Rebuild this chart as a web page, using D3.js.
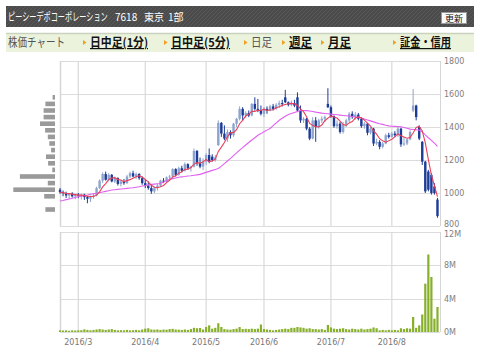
<!DOCTYPE html>
<html>
<head>
<meta charset="utf-8">
<script src="https://cdn.jsdelivr.net/npm/d3@7"></script>
<style>
  body { margin: 0; background: #fff; }
</style>
</head>
<body>
<div id="chart"></div>
<script>
// daily candles (Feb 22 - Aug 2016), one entry per trading day
const opens = [1020,1005,1000,985,995,980,990,985,990,975,965,980,985,1030,1075,1115,1080,1110,1070,1090,
  1055,1070,1060,1100,1120,1100,1115,1090,1060,1045,1030,1010,1030,1045,1075,1070,1095,1100,1145,1110,
  1150,1135,1175,1150,1160,1255,1180,1160,1190,1230,1220,1200,1290,1425,1360,1330,1370,1350,1420,1450,
  1510,1470,1485,1470,1540,1510,1500,1480,1510,1500,1525,1510,1535,1545,1580,1550,1535,1545,1580,1500,
  1440,1450,1390,1330,1440,1400,1440,1450,1540,1520,1465,1405,1420,1370,1415,1440,1480,1460,1475,1450,
  1405,1420,1365,1390,1300,1310,1280,1300,1350,1340,1360,1350,1390,1295,1300,1325,1500,1530,1400,1310,
  1190,1130,1110,1040,960];
const highs = [1030,1015,1008,1000,1005,995,1000,995,995,982,985,995,1038,1082,1125,1130,1120,1115,1100,1095,
  1080,1085,1110,1130,1135,1125,1120,1100,1080,1070,1050,1040,1055,1080,1090,1100,1110,1150,1150,1160,
  1165,1185,1180,1165,1270,1260,1215,1210,1240,1270,1235,1230,1440,1430,1410,1385,1380,1425,1455,1525,
  1520,1495,1500,1545,1580,1570,1530,1520,1525,1535,1540,1545,1560,1565,1625,1555,1560,1565,1610,1530,
  1460,1455,1400,1460,1460,1450,1465,1470,1635,1530,1470,1440,1430,1430,1450,1490,1495,1490,1485,1460,
  1430,1425,1400,1395,1330,1320,1310,1360,1365,1370,1375,1400,1395,1340,1330,1380,1630,1535,1410,1315,
  1195,1140,1120,1060,970];
const lows = [995,980,970,965,972,962,968,960,958,938,945,965,980,1025,1060,1075,1070,1065,1060,1045,
  1040,1050,1055,1090,1095,1085,1080,1050,1030,1020,995,1000,1015,1040,1060,1060,1080,1095,1100,1105,
  1125,1130,1140,1130,1155,1165,1150,1140,1170,1180,1190,1190,1285,1340,1320,1310,1330,1340,1400,1440,
  1440,1455,1460,1465,1500,1490,1470,1460,1480,1495,1500,1505,1515,1525,1545,1525,1525,1520,1490,1425,
  1425,1380,1320,1325,1310,1390,1425,1430,1515,1455,1395,1390,1360,1360,1400,1430,1450,1445,1440,1395,
  1390,1350,1355,1285,1290,1265,1270,1295,1330,1335,1340,1340,1280,1285,1290,1320,1490,1440,1320,1170,
  1000,1010,990,990,850];
const closes = [1005,1000,985,995,980,990,985,990,975,965,980,985,1030,1075,1115,1080,1110,1070,1090,1055,
  1070,1060,1100,1120,1100,1115,1090,1060,1045,1030,1010,1030,1045,1075,1070,1095,1100,1145,1110,1150,
  1135,1175,1150,1160,1255,1180,1160,1190,1230,1190,1200,1215,1425,1360,1330,1370,1350,1420,1450,1510,
  1470,1485,1470,1540,1510,1500,1480,1510,1500,1525,1510,1535,1545,1540,1550,1535,1545,1530,1500,1440,
  1450,1390,1330,1440,1400,1440,1450,1460,1520,1465,1405,1420,1370,1415,1440,1480,1460,1475,1450,1405,
  1420,1365,1390,1300,1310,1280,1300,1350,1340,1360,1350,1390,1295,1300,1325,1370,1530,1460,1330,1190,
  1010,1020,1000,1000,860];
// volume in millions of shares
const volumes = [0.2,0.18,0.2,0.15,0.2,0.18,0.2,0.22,0.32,0.25,0.2,0.25,0.3,0.35,0.3,0.25,0.3,0.35,0.25,0.2,
  0.22,0.2,0.25,0.2,0.22,0.25,0.2,0.3,0.4,0.45,0.3,0.28,0.3,0.25,0.3,0.28,0.35,0.38,0.3,0.28,
  0.25,0.3,0.25,0.35,0.5,0.45,0.48,0.3,0.6,0.8,0.4,0.5,1.05,0.6,0.35,0.3,0.28,0.35,0.4,0.6,
  0.35,0.38,0.35,0.4,0.35,0.4,0.9,0.35,0.3,0.25,0.2,0.25,0.3,0.35,0.4,0.35,0.5,0.5,0.6,0.55,
  0.5,0.4,0.45,0.35,0.35,0.3,0.35,0.25,0.85,0.55,0.4,0.35,0.4,0.45,0.35,0.3,0.4,0.35,0.3,0.4,
  0.3,0.35,0.4,0.55,0.45,0.2,0.25,0.2,0.25,0.2,0.25,0.2,0.45,0.35,0.45,0.4,1.8,0.5,0.8,2.1,
  5.8,9.3,6.6,1.6,3.0];
// 25 day moving average as drawn on the chart
const ma25 = [951,955,960,964,968,973,977,981,985,988,992,995,998,1002,1006,1010,1014,1018,1020,1022,
  1024,1026,1028,1030,1032,1035,1038,1042,1045,1049,1052,1054,1056,1058,1066,1075,1083,1087,1091,1095,
  1098,1100,1103,1105,1108,1110,1113,1119,1125,1131,1137,1143,1149,1163,1178,1194,1210,1227,1243,1260,
  1275,1291,1306,1321,1335,1350,1360,1371,1381,1391,1408,1424,1441,1453,1465,1476,1482,1488,1494,1500,
  1500,1499,1497,1494,1490,1487,1484,1482,1480,1478,1476,1474,1472,1470,1468,1466,1464,1461,1458,1455,
  1449,1443,1437,1431,1425,1420,1416,1411,1407,1405,1404,1403,1401,1397,1392,1387,1385,1383,1381,1370,
  1352,1335,1319,1302,1282];

const monthLabels = ["2016/3", "2016/4", "2016/5", "2016/6", "2016/7", "2016/8"];
const monthIndex = [6, 28, 48, 67, 89, 109];
const priceTicks = [800, 1000, 1200, 1400, 1600, 1800];
const volumeTicks = [0, 4, 8, 12];

// volume by price (left side histogram)
const profileLevels = [1580,1540,1500,1460,1420,1380,1340,1300,1260,1220,1180,1140,1100,1060,1020,980,940,900];
const profileVolumes = [0.8,3.2,3.8,3.8,5.0,3.3,2.4,1.9,1.3,3.0,2.3,0.9,11.7,2.4,13.9,3.6,0,3.2];

const navItems = ["日中足(1分)", "日中足(5分)", "日足", "週足", "月足", "証金・信用"];
const navX = [90, 171, 251, 289, 328, 400];
const navW = [58, 59, 21, 23, 23, 51];

const width = 480, height = 360;
const fontJP = "'Noto Sans CJK JP', sans-serif";
const fontAxis = "'DejaVu Sans', sans-serif";

const svg = d3.select("#chart").append("svg")
  .attr("width", width)
  .attr("height", height)
  .style("display", "block");

// header bar with diagonal texture
const defs = svg.append("defs");
const pat = defs.append("pattern")
  .attr("id", "stripe")
  .attr("width", 4).attr("height", 4)
  .attr("patternUnits", "userSpaceOnUse");
pat.append("rect").attr("width", 4).attr("height", 4).attr("fill", "#4b4b4b");
pat.append("path").attr("d", "M0,4 L4,0").attr("stroke", "#595959").attr("stroke-width", 1);

svg.append("rect")
  .attr("x", 6).attr("y", 6).attr("width", 468).attr("height", 21)
  .attr("fill", "url(#stripe)");

const title = svg.append("g").attr("fill", "#fff").style("font-family", fontJP);
// narrow katakana, squeezed horizontally like the original bitmap font
title.append("text")
  .attr("transform", "translate(8,21) scale(0.65,1)")
  .style("font-size", "11px")
  .text("ピーシーデポコーポレーション");
title.append("text").attr("x", 115).attr("y", 21).style("font-size", "10px").text("7618");
title.append("text").attr("x", 144).attr("y", 21).style("font-size", "10px").text("東京");
title.append("text").attr("x", 168).attr("y", 21).style("font-size", "10px").text("1部");

// refresh button
svg.append("rect")
  .attr("x", 441.5).attr("y", 12.5).attr("width", 25).attr("height", 11)
  .attr("fill", "#fafafa").attr("stroke", "#999");
svg.append("text")
  .attr("x", 454).attr("y", 21.5)
  .attr("text-anchor", "middle")
  .style("font-family", fontJP).style("font-size", "9px")
  .attr("fill", "#111")
  .text("更新");

// navigation bar
svg.append("rect")
  .attr("x", 6).attr("y", 33).attr("width", 468).attr("height", 19)
  .attr("fill", "#ebf3dc");
svg.append("line")
  .attr("x1", 6).attr("x2", 474).attr("y1", 33.5).attr("y2", 33.5)
  .attr("stroke", "#c9d2bf").attr("stroke-width", 1.5);
svg.append("text")
  .attr("x", 8).attr("y", 47)
  .attr("textLength", 57).attr("lengthAdjust", "spacingAndGlyphs")
  .style("font-family", fontJP).style("font-size", "12px")
  .attr("fill", "#555")
  .text("株価チャート");

navItems.forEach((label, i) => {
  const x0 = navX[i];
  svg.append("path")
    .attr("d", `M${x0 - 7},${40} L${x0 - 3.5},${42.5} L${x0 - 7},${45} Z`)
    .attr("fill", "#f0a020");
  const isCurrent = label === "日足";
  svg.append("text")
    .attr("x", x0).attr("y", 47)
    .attr("textLength", navW[i]).attr("lengthAdjust", "spacingAndGlyphs")
    .style("font-family", fontJP).style("font-size", "12px")
    .style("font-weight", isCurrent ? "normal" : "bold")
    .style("text-decoration", isCurrent ? "none" : "underline")
    .attr("fill", isCurrent ? "#555" : "#111")
    .text(label);
});

// scales
const plotLeft = 60, plotRight = 440;
const x = d3.scaleBand()
  .domain(d3.range(closes.length))
  .range([58.5, 439])
  .padding(0);
const xc = (i) => x(i) + x.bandwidth() / 2;

const yPrice = d3.scaleLinear().domain([800, 1800]).range([226, 61]);
const yVol = d3.scaleLinear().domain([0, 12]).range([332, 232]);

function drawPanel(yScale, ticks, top, bottom, fmt) {
  const g = svg.append("g");
  g.selectAll(".hgrid")
    .data(ticks)
    .enter().append("line")
    .attr("x1", plotLeft).attr("x2", plotRight)
    .attr("y1", (d) => Math.round(yScale(d)) + 0.5)
    .attr("y2", (d) => Math.round(yScale(d)) + 0.5)
    .attr("stroke", "#dcdcdc");
  g.selectAll(".vgrid")
    .data(monthIndex)
    .enter().append("line")
    .attr("x1", (d) => xc(d)).attr("x2", (d) => xc(d))
    .attr("y1", top).attr("y2", bottom)
    .attr("stroke", "#d9d9d9").attr("stroke-width", 1.2);
  g.append("line")
    .attr("x1", plotLeft + 0.5).attr("x2", plotLeft + 0.5)
    .attr("y1", top).attr("y2", bottom)
    .attr("stroke", "#d5d5d5").attr("stroke-width", 1.5);
  g.append("line")
    .attr("x1", plotRight + 0.5).attr("x2", plotRight + 0.5)
    .attr("y1", top).attr("y2", bottom)
    .attr("stroke", "#d5d5d5");
  return g;
}

const pricePanel = drawPanel(yPrice, priceTicks, 61, 226);
const volPanel = drawPanel(yVol, volumeTicks, 232, 332);

// right hand axis labels; the lowest price label sits just above the volume panel
pricePanel.selectAll(".ylab")
  .data(priceTicks)
  .enter().append("text")
  .attr("x", 444)
  .attr("y", (d) => d === 800 ? yPrice(d) + 0.5 : yPrice(d) + 3)
  .style("font-family", fontAxis).style("font-size", "8px")
  .attr("fill", "#808080")
  .text((d) => d);

volPanel.selectAll(".ylab")
  .data(volumeTicks)
  .enter().append("text")
  .attr("x", 444)
  .attr("y", (d) => d === 12 ? yVol(d) + 5 : yVol(d) + 3)
  .style("font-family", fontAxis).style("font-size", "8px")
  .attr("fill", "#808080")
  .text((d) => d + "M");

// month labels
svg.selectAll(".xlab")
  .data(monthIndex)
  .enter().append("text")
  .attr("x", (d) => xc(d))
  .attr("y", 345)
  .attr("text-anchor", "middle")
  .style("font-family", fontAxis).style("font-size", "8px")
  .attr("fill", "#777")
  .text((d, i) => monthLabels[i]);

// volume by price bars
const xProfile = d3.scaleLinear().domain([0, 14]).range([0, 42]);
svg.append("g")
  .selectAll("rect")
  .data(profileLevels)
  .enter().append("rect")
  .attr("x", (d, i) => 55 - xProfile(profileVolumes[i]))
  .attr("y", (d) => yPrice(d) - 2.3)
  .attr("width", (d, i) => xProfile(profileVolumes[i]))
  .attr("height", 4.6)
  .attr("fill", "#9a9a9a");

// candles
const upColor = "#8ea3cd";
const downColor = "#1c3c98";
const candles = svg.append("g")
  .selectAll("g")
  .data(d3.range(closes.length))
  .enter().append("g");

candles.append("line")
  .attr("x1", (i) => xc(i)).attr("x2", (i) => xc(i))
  .attr("y1", (i) => yPrice(highs[i]))
  .attr("y2", (i) => yPrice(lows[i]))
  .attr("stroke", (i) => closes[i] >= opens[i] ? upColor : downColor)
  .attr("stroke-width", 1);

candles.append("rect")
  .attr("x", (i) => xc(i) - 1.2)
  .attr("width", 2.4)
  .attr("y", (i) => yPrice(Math.max(opens[i], closes[i])))
  .attr("height", (i) => Math.max(1, Math.abs(yPrice(opens[i]) - yPrice(closes[i]))))
  .attr("fill", (i) => closes[i] >= opens[i] ? upColor : downColor);

// moving averages
const ma5 = closes.map((c, i) => d3.mean(closes.slice(Math.max(0, i - 4), i + 1)));

const line = (arr) => d3.line()
  .x((d, i) => xc(i))
  .y((d) => yPrice(d))(arr);

svg.append("path")
  .attr("d", line(ma25))
  .attr("fill", "none")
  .attr("stroke", "#e060f0")
  .attr("stroke-width", 1.1);

svg.append("path")
  .attr("d", line(ma5))
  .attr("fill", "none")
  .attr("stroke", "#e8405a")
  .attr("stroke-width", 1.1);

// volume bars
svg.append("g")
  .selectAll("rect")
  .data(volumes)
  .enter().append("rect")
  .attr("x", (d, i) => xc(i) - 1.1)
  .attr("width", 2.2)
  .attr("y", (d) => yVol(d))
  .attr("height", (d) => yVol(0) - yVol(d))
  .attr("fill", "#86b02a");
</script>
</body>
</html>
